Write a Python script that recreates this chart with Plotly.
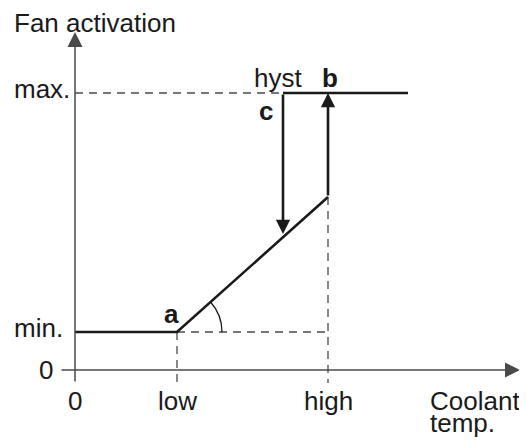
import math
import plotly.graph_objects as go

# x values: coolant temperature (chart units), y values: fan activation
temp_low = 102
temp_hyst = 208
temp_high = 253
temp_end = 333
act_min = 38
act_max = 277
act_ramp_top = 173
act_hyst_arrow = 136

x_axis_end = 445
y_axis_end = 338

x_tick_labels = ["0", "low", "high"]
x_tick_values = [0, temp_low, temp_high]
y_tick_labels = ["min.", "max."]
y_tick_values = [act_min, act_max]

FONT = "Liberation Sans, Arial, Helvetica, sans-serif"
INK = "#1a1a1a"
GRID = "#4a4a4a"

fig = go.Figure()

# dashed guide lines
dash = dict(color=GRID, width=1.3, dash="8px,6px")
fig.add_trace(go.Scatter(x=[0, temp_hyst], y=[act_max, act_max], mode="lines", line=dash, hoverinfo="skip"))
fig.add_trace(go.Scatter(x=[temp_low, temp_high], y=[act_min, act_min], mode="lines", line=dash, hoverinfo="skip"))
fig.add_trace(go.Scatter(x=[temp_low, temp_low], y=[act_min, -13], mode="lines", line=dash, hoverinfo="skip"))
fig.add_trace(go.Scatter(x=[temp_high, temp_high], y=[act_ramp_top, -13], mode="lines", line=dash, hoverinfo="skip"))

# characteristic curve
fig.add_trace(go.Scatter(x=[0, temp_low, temp_high], y=[act_min, act_min, act_ramp_top],
                         mode="lines", line=dict(color=INK, width=2.6), hoverinfo="skip"))
fig.add_trace(go.Scatter(x=[temp_hyst, temp_end], y=[act_max, act_max],
                         mode="lines", line=dict(color=INK, width=2.6), hoverinfo="skip"))

arrows = [
    # (head x, head y, tail x, tail y, colour, width, size)
    (temp_high, act_max, temp_high, act_ramp_top, INK, 2.6, 1.1),
    (temp_hyst, act_hyst_arrow, temp_hyst, act_max, INK, 2.6, 1.1),
    (x_axis_end, 0, -15, 0, GRID, 1.5, 2.0),
    (0, y_axis_end, 0, -13, GRID, 1.5, 2.0),
]
for hx, hy, tx, ty, col, w, s in arrows:
    fig.add_annotation(x=hx, y=hy, ax=tx, ay=ty, xref="x", yref="y", axref="x", ayref="y",
                       text="", showarrow=True, arrowhead=2, arrowsize=s, arrowwidth=w,
                       arrowcolor=col, standoff=0, startstandoff=0)

# angle arc at point a
r = 45
theta = math.atan2(act_ramp_top - act_min, temp_high - temp_low)
sx, sy = temp_low + r, act_min
cx, cy = temp_low + r, act_min + r * math.tan(theta / 2)
ex, ey = temp_low + r * math.cos(theta), act_min + r * math.sin(theta)
fig.add_shape(type="path", xref="x", yref="y",
              path=f"M {sx},{sy} Q {cx},{cy} {ex},{ey}",
              line=dict(color=INK, width=1.3))

txt = dict(family=FONT, size=26, color=INK)
bold = dict(family=FONT, size=26, color=INK, weight="bold")

for lab, v in zip(x_tick_labels, x_tick_values):
    fig.add_annotation(x=v, y=-31, text=lab, showarrow=False, font=txt,
                       xanchor="center", yanchor="middle")
for lab, v in zip(y_tick_labels, y_tick_values):
    fig.add_annotation(x=-63, y=v + 4, text=lab, showarrow=False, font=txt,
                       xanchor="left", yanchor="middle")
fig.add_annotation(x=-20, y=0, text="0", showarrow=False, font=txt,
                   xanchor="right", yanchor="middle")

fig.add_annotation(x=-63, y=347, text="Fan activation", showarrow=False, font=txt,
                   xanchor="left", yanchor="middle")
fig.add_annotation(x=353, y=-31, text="Coolant", showarrow=False, font=txt,
                   xanchor="left", yanchor="middle")
fig.add_annotation(x=353, y=-53, text="temp.", showarrow=False, font=txt,
                   xanchor="left", yanchor="middle")
fig.add_annotation(x=203, y=292, text="hyst", showarrow=False, font=txt,
                   xanchor="center", yanchor="middle")
fig.add_annotation(x=96, y=56, text="a", showarrow=False, font=bold)
fig.add_annotation(x=255, y=292, text="b", showarrow=False, font=bold)
fig.add_annotation(x=191, y=259, text="c", showarrow=False, font=bold)

# page body has an 8px margin, so the figure is 8px smaller and the ranges shifted
fig.update_layout(
    width=519, height=433,
    margin=dict(l=0, r=0, t=0, b=0),
    paper_bgcolor="white", plot_bgcolor="white",
    showlegend=False,
    xaxis=dict(range=[-67, 452], visible=False, fixedrange=True),
    yaxis=dict(range=[-71, 362], visible=False, fixedrange=True),
)

fig.write_html("out.html")
